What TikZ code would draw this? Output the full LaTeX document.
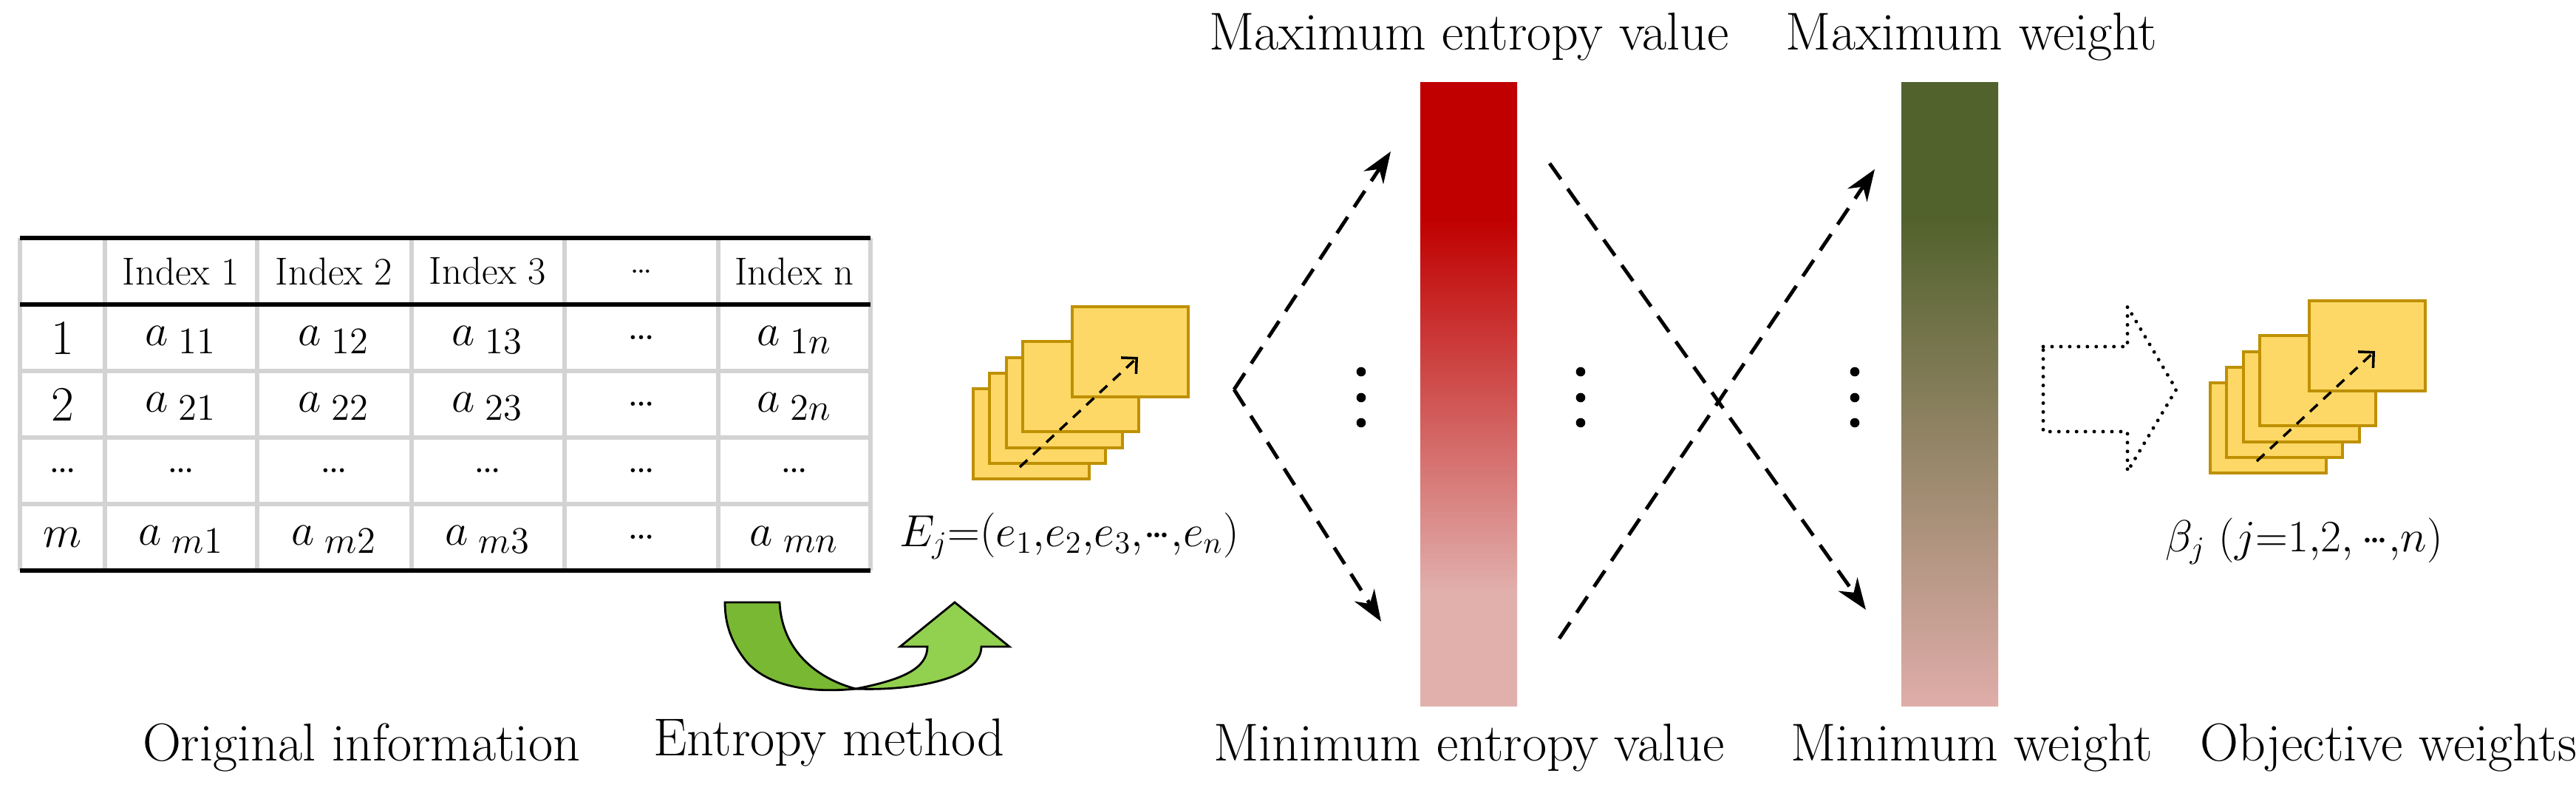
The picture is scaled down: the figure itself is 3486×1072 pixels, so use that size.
\documentclass[tikz,border=0pt]{standalone}
\usetikzlibrary{arrows.meta}
\definecolor{rbar}{HTML}{C00000}
\definecolor{rpink}{HTML}{E1B0AD}
\definecolor{gbar}{HTML}{52622D}
\definecolor{gpink}{HTML}{DFADA9}
\definecolor{cardfill}{HTML}{FDD866}
\definecolor{carddraw}{HTML}{BF9000}
\definecolor{gridgrey}{HTML}{D3D3D3}
\definecolor{gdark}{HTML}{78B832}
\definecolor{glight}{HTML}{92D050}
\pgfdeclareverticalshading{redbar}{100bp}{color(0bp)=(rpink); color(34bp)=(rpink); color(64bp)=(rbar); color(100bp)=(rbar)}
\pgfdeclareverticalshading{greenbar}{100bp}{color(0bp)=(gpink); color(25bp)=(gpink); color(64bp)=(gbar); color(100bp)=(gbar)}
\tikzset{
  lbl/.style={font=\fontsize{20.5}{24}\selectfont, inner sep=0pt},
  mlbl/.style={font=\fontsize{17}{20}\selectfont, inner sep=0pt},
  tbl/.style={font=\fontsize{15}{17}\selectfont, inner sep=0pt},
  cell/.style={font=\fontsize{19}{22}\selectfont, inner sep=0pt},
  card/.style={draw=carddraw, fill=cardfill, line width=1.1pt},
  bigdash/.style={line width=1.4pt, dash pattern=on 7.5pt off 4.5pt, -{Stealth[length=12pt,width=9pt]}},
  carddash/.style={line width=1pt, dash pattern=on 4pt off 3pt, -{Straight Barb[angle=90:6pt]}},
  vdot/.style={circle, fill=black, inner sep=0pt, minimum size=3.6pt},
}
\begin{document}
\begin{tikzpicture}[x=0.01cm,y=-0.01cm]
\useasboundingbox (0,0) rectangle (3486,1072);
% ---------- table ----------
\foreach \x in {27,142,348,557,764,972,1178} \draw[gridgrey, line width=1.5pt] (\x,322) -- (\x,772);
\foreach \y in {502,592,682} \draw[gridgrey, line width=1.5pt] (27,\y) -- (1178,\y);
\foreach \y in {322,412,772} \draw[black, line width=1.8pt] (27,\y) -- (1178,\y);
\node[tbl] (h1) at (245,367) {Index 1};
\node[tbl] (h2) at (452,367) {Index 2};
\node[tbl] (h3) at (660,367) {Index 3};
\node[tbl] (h4) at (868,367) {\ldots};
\node[tbl] (h5) at (1075,367) {Index n};
\node[cell] (r1) at (85,457) {1};
\node[cell] (r2) at (85,547) {2};
\node[cell] (r3) at (85,637) {\ldots};
\node[cell] (r4) at (85,727) {$m$};
\node[cell] (c11) at (245,460) {$a_{\;11}$};
\node[cell] (c12) at (452,460) {$a_{\;12}$};
\node[cell] (c13) at (660,460) {$a_{\;13}$};
\node[cell] (c14) at (868,457) {\ldots};
\node[cell] (c15) at (1075,460) {$a_{\;1n}$};
\node[cell] (c21) at (245,550) {$a_{\;21}$};
\node[cell] (c22) at (452,550) {$a_{\;22}$};
\node[cell] (c23) at (660,550) {$a_{\;23}$};
\node[cell] (c24) at (868,547) {\ldots};
\node[cell] (c25) at (1075,550) {$a_{\;2n}$};
\foreach \x/\n in {245/1,452/2,660/3,868/4,1075/5} \node[cell] (c3\n) at (\x,637) {\ldots};
\node[cell] (c41) at (245,730) {$a_{\;m1}$};
\node[cell] (c42) at (452,730) {$a_{\;m2}$};
\node[cell] (c43) at (660,730) {$a_{\;m3}$};
\node[cell] (c44) at (868,727) {\ldots};
\node[cell] (c45) at (1075,730) {$a_{\;mn}$};
% ---------- green curved arrow ----------
\draw[line width=0.8pt, fill=gdark] (981,815) -- (1055,815) .. controls (1058,880) and (1105,918) .. (1158,932)
   .. controls (1100,938) and (1040,930) .. (1010,895) .. controls (990,870) and (981,845) .. cycle;
\draw[line width=0.8pt, fill=glight] (1158,932) .. controls (1220,920) and (1255,905) .. (1255,875)
   -- (1218,875) -- (1292,815) -- (1366,875) -- (1328,875)
   .. controls (1328,920) and (1230,935) .. (1158,932) -- cycle;
% ---------- card icons ----------
\foreach \dx/\dy/\k in {0/0/a,1674/-8/b}{
  \begin{scope}[shift={(\dx,\dy)}]
    \foreach \px/\py in {1317/526,1339/505,1362/484,1384/462,1451/415}
      \draw[card] (\px,\py) rectangle ++(157,122);
    \coordinate (s\k) at (1380,632);
    \coordinate (t\k) at (1540,483);
    \draw[carddash] (s\k) -- (t\k);
  \end{scope}
}
\node[mlbl] (ej) at (1447,725) {$E_j{=}(e_{1}{,}e_{2}{,}e_{3}{,}{\cdot}\mkern-2mu{\cdot}\mkern-2mu{\cdot}{,}e_{n})$};
\node[mlbl] (bj) at (3118,732) {$\beta_j\ (j{=}1{,}2{,}\,{\cdot}\mkern-2mu{\cdot}\mkern-2mu{\cdot}{,}n)$};
% ---------- bars ----------
\shade[shading=redbar] (1922,111) rectangle (2053,955);
\shade[shading=greenbar] (2573,111) rectangle (2704,955);
% ---------- labels ----------
\node[lbl] (maxe) at (1988,50) {Maximum entropy value};
\node[lbl] (mine) at (1988,1012) {Minimum entropy value};
\node[lbl] (maxw) at (2668,50) {Maximum weight};
\node[lbl] (minw) at (2668,1012) {Minimum weight};
\node[lbl] (objw) at (3232,1012) {Objective weights};
\node[lbl] (orig) at (489,1012) {Original information};
\node[lbl] (entm) at (1122,1005) {Entropy method};
% ---------- dashed arrows ----------
\coordinate (v) at (1670,527);
\coordinate (up1) at (1882,205);
\coordinate (dn1) at (1869,841);
\draw[bigdash] (v) -- (up1);
\draw[bigdash] (v) -- (dn1);
\coordinate (a1) at (2097,221); \coordinate (a2) at (2525,825);
\coordinate (b1) at (2110,864); \coordinate (b2) at (2537,229);
\draw[bigdash] (a1) -- (a2);
\draw[bigdash] (b1) -- (b2);
% ---------- vertical dots ----------
\foreach \x/\n in {1842/1,2139/2,2510/3}
  \foreach \y/\m in {503/a,538/b,572/c}
    \node[vdot] (d\n\m) at (\x,\y) {};
% ---------- hollow dotted arrow ----------
\draw[line width=1.4pt, line cap=round, dash pattern=on 0pt off 3.4pt]
  (2765,469) -- (2879,469) -- (2879,415) -- (2945,527) -- (2879,638) -- (2879,584) -- (2765,584) -- cycle;
\end{tikzpicture}
\end{document}
